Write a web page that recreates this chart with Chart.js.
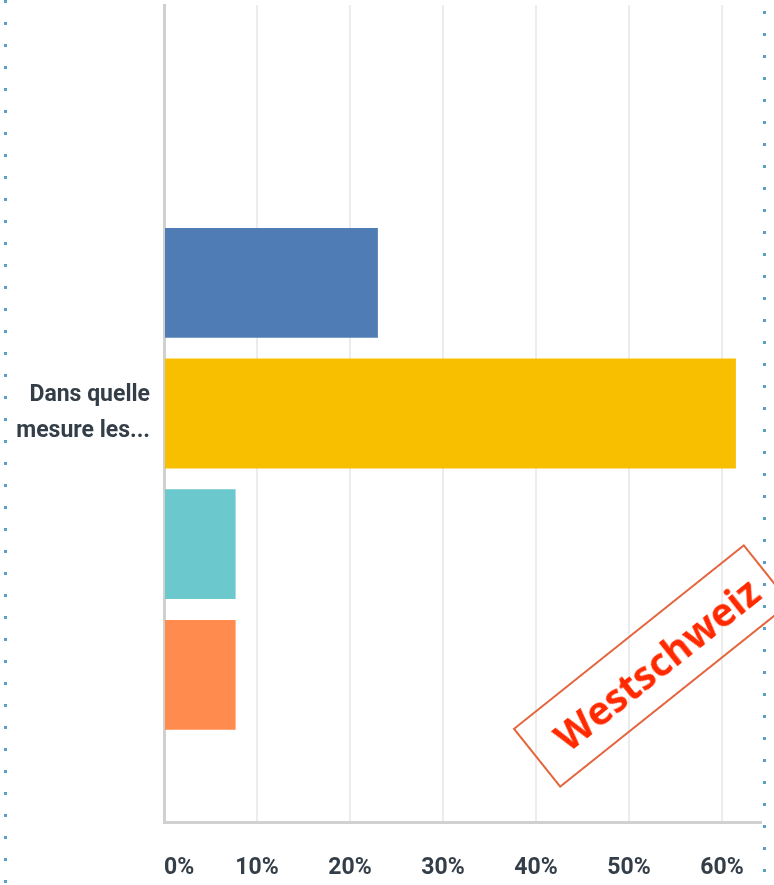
<!DOCTYPE html>
<html>
<head>
<meta charset="utf-8">
<script src="https://cdn.jsdelivr.net/npm/chart.js@4/dist/chart.umd.min.js"></script>
<style>
  html, body { margin: 0; padding: 0; background: #fff; }
  #wrap { position: relative; width: 774px; height: 885px; overflow: hidden; }
  #c { position: absolute; left: 0; top: 0; }
  .dots { position: absolute; width: 3px; height: 885px;
    background: repeating-linear-gradient(to bottom, #5b9fc6 0px, #5b9fc6 3px, transparent 3px, transparent 22px); }
  #stamp { position: absolute; left: 504px; top: 628px; width: 296px; height: 76px;
    border: 2px solid #e4643c; transform: rotate(-38.6deg); transform-origin: 50% 50%;
    display: flex; align-items: center; justify-content: center;
    font-family: "Open Sans", sans-serif; font-weight: 700; font-size: 39px; color: #ff2a00;
    background: transparent; box-sizing: border-box; padding-left: 10px; }
</style>
</head>
<body>
<div id="wrap">
  <canvas id="c" width="774" height="885"></canvas>
  <div class="dots" style="left:4px; top:0px;"></div>
  <div class="dots" style="left:763px; top:11px;"></div>
  <div id="stamp">Westschweiz</div>
</div>
<script>
const categories = [["Dans quelle", "mesure les..."]];
const seriesNames = ["Antwort 0", "Antwort 1", "Antwort 2", "Antwort 3", "Antwort 4"];
const seriesValues = [
  [0],
  [23.0],
  [61.5],
  [7.7],
  [7.7]
];
const seriesColors = ["#7f76b3", "#507cb6", "#f8be00", "#6bc8cd", "#ff8b4f"];
const tickValues = [0, 10, 20, 30, 40, 50, 60];
const axisMax = 64.2;

const fontFam = '"Liberation Sans Narrow", "Roboto", sans-serif';

new Chart(document.getElementById('c'), {
  type: 'bar',
  data: {
    labels: categories,
    datasets: seriesValues.map((vals, i) => ({
      label: seriesNames[i],
      data: vals,
      backgroundColor: seriesColors[i],
      borderWidth: 0,
      categoryPercentage: 0.8,
      barPercentage: 0.84
    }))
  },
  options: {
    indexAxis: 'y',
    responsive: false,
    animation: false,
    layout: { padding: { top: 5, right: 13, bottom: 0, left: 0 } },
    plugins: { legend: { display: false }, tooltip: { enabled: false } },
    scales: {
      x: {
        min: 0, max: axisMax,
        afterBuildTicks: (s) => { s.ticks = tickValues.concat([axisMax]).map(v => ({ value: v })); },
        afterFit: (s) => { s.paddingLeft = 0; s.paddingRight = 0; s.height = 63; },
        grid: {
          drawTicks: false,
          lineWidth: 2,
          color: (ctx) => (ctx.tick && ctx.tick.value === axisMax) ? 'rgba(0,0,0,0)' : '#ececec'
        },
        border: { display: true, color: '#d0d0d0', width: 3 },
        ticks: {
          align: 'inner',
          padding: 32,
          color: '#333e48',
          font: { family: fontFam, size: 23, weight: 'bold' },
          callback: (v) => tickValues.includes(v) ? v + '%' : ''
        }
      },
      y: {
        afterFit: (s) => { s.width = 164; s.paddingTop = 0; s.paddingBottom = 0; },
        grid: { display: false, drawTicks: false },
        border: { display: true, color: '#d0d0d0', width: 3 },
        ticks: {
          padding: 14,
          color: '#333e48',
          font: { family: fontFam, size: 23, weight: 'bold', lineHeight: 1.57 }
        }
      }
    }
  }
});
</script>
</body>
</html>
